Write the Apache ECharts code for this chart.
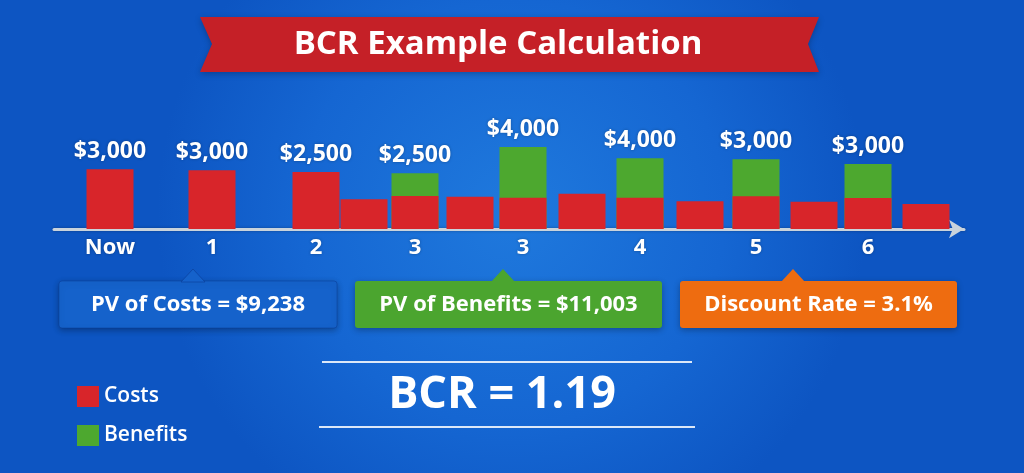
<!DOCTYPE html>
<html>
<head>
<meta charset="utf-8">
<title>BCR Example Calculation</title>
<script src="https://cdn.jsdelivr.net/npm/echarts@6/dist/echarts.min.js"></script>
<style>
  html, body { margin: 0; padding: 0; }
  #main { width: 1024px; height: 473px; }
</style>
</head>
<body>
<div id="main"></div>
<script>
// timeline position of each bar (1 unit = one slot on the axis)
var xPos = [0.56, 1.58, 2.62, 3.10, 3.61, 4.16, 4.69, 5.28, 5.86, 6.46, 7.02, 7.60, 8.14, 8.72];
// period label under a bar ('' = none)
var periods = ['Now', '1', '2', '', '3', '', '3', '', '4', '', '5', '', '6', ''];
// cost and benefit heights
var costs = [2985, 2935, 2850, 1485, 1650, 1615, 1565, 1765, 1565, 1385, 1635, 1365, 1550, 1250];
var benefits = [null, null, null, null, 1135, null, 2535, null, 1970, null, 1850, null, 1700, null];
// text shown above each bar
var valueLabels = ['$3,000', '$3,000', '$2,500', '', '$2,500', '', '$4,000', '', '$4,000', '', '$3,000', '', '$3,000', ''];

var summary = [
  { text: 'PV of Costs = $9,238', color: '#1562cb' },
  { text: 'PV of Benefits = $11,003', color: '#4ba52f' },
  { text: 'Discount Rate = 3.1%', color: '#ee6c10' }
];
var ratioText = 'BCR = 1.19';

var FONT = '"Open Sans", "Noto Sans", sans-serif';
var RED = '#d8252a';
var GREEN = '#4da82f';

var labelValues = [];
xPos.forEach(function (x, i) {
  if (periods[i] !== '') labelValues.push(x);
});

var costData = xPos.map(function (x, i) {
  return {
    value: [x, costs[i]],
    label: { show: benefits[i] == null && valueLabels[i] !== '', formatter: valueLabels[i] }
  };
});
// green bar drawn behind the red one, from 0 up to cost + benefit
var benefitData = [];
xPos.forEach(function (x, i) {
  if (benefits[i] == null) return;
  benefitData.push({
    value: [x, costs[i] + benefits[i]],
    label: { show: true, formatter: valueLabels[i] }
  });
});

var barLabel = {
  position: 'top',
  distance: 6,
  color: '#fff',
  fontFamily: FONT,
  fontSize: 23,
  fontWeight: 'bold',
  textShadowColor: 'rgba(0,0,0,0.3)',
  textShadowBlur: 3
};

// summary boxes under the axis
var boxes = [
  { x: 59, w: 278, tip: 193 },
  { x: 355, w: 307, tip: 503 },
  { x: 680, w: 277, tip: 793 }
];
var graphics = [];

// title ribbon
graphics.push({
  type: 'polygon',
  shape: { points: [[200, 17], [819, 17], [808, 44], [819, 72], [200, 72], [212, 44]] },
  style: { fill: '#c52027', shadowBlur: 6, shadowColor: 'rgba(0,0,0,0.25)', shadowOffsetY: 2 }
});
graphics.push({
  type: 'text',
  x: 498, y: 45,
  style: {
    text: 'BCR Example Calculation', fill: '#fff', font: 'bold 33px ' + FONT,
    align: 'center', verticalAlign: 'middle',
    shadowBlur: 3, shadowColor: 'rgba(0,0,0,0.3)'
  }
});

boxes.forEach(function (b, i) {
  var s = summary[i];
  graphics.push({
    type: 'rect',
    shape: { x: b.x, y: 281, width: b.w, height: 47, r: 3 },
    style: {
      fill: s.color, stroke: i === 0 ? 'rgba(10,60,150,0.5)' : null, lineWidth: 1,
      shadowBlur: 6, shadowColor: 'rgba(0,0,0,0.3)', shadowOffsetY: 2
    }
  });
  graphics.push({
    type: 'polygon',
    shape: { points: [[b.tip - 12, 282], [b.tip, 269], [b.tip + 12, 282]] },
    style: { fill: s.color, stroke: i === 0 ? 'rgba(10,60,150,0.6)' : null, lineWidth: 1 }
  });
  graphics.push({
    type: 'text',
    x: b.x + b.w / 2, y: 305,
    style: {
      text: s.text, fill: '#fff', font: 'bold 22px ' + FONT,
      align: 'center', verticalAlign: 'middle',
      shadowBlur: 2, shadowColor: 'rgba(0,0,0,0.25)'
    }
  });
});

// BCR result between two rules
graphics.push({
  type: 'line',
  shape: { x1: 322, y1: 362, x2: 692, y2: 362 },
  style: { stroke: 'rgba(255,255,255,0.85)', lineWidth: 2 }
});
graphics.push({
  type: 'line',
  shape: { x1: 319, y1: 427, x2: 695, y2: 427 },
  style: { stroke: 'rgba(255,255,255,0.85)', lineWidth: 2 }
});
graphics.push({
  type: 'text',
  x: 502, y: 395,
  style: {
    text: ratioText, fill: '#fff', font: 'bold 45px ' + FONT,
    align: 'center', verticalAlign: 'middle',
    shadowBlur: 4, shadowColor: 'rgba(0,0,0,0.3)'
  }
});

var myChart = echarts.init(document.getElementById('main'));
var option = {
  backgroundColor: {
    type: 'radial', x: 0.5, y: 0.45, r: 0.75,
    colorStops: [
      { offset: 0, color: '#1f79dd' },
      { offset: 0.6, color: '#1566d2' },
      { offset: 1, color: '#0d55c2' }
    ]
  },
  animation: false,
  legend: {
    orient: 'vertical',
    left: 72, top: 381,
    icon: 'rect',
    itemWidth: 22, itemHeight: 21, itemGap: 18,
    data: ['Costs', 'Benefits'],
    textStyle: { color: '#fff', fontFamily: FONT, fontSize: 21, fontWeight: 600 }
  },
  grid: { left: 54, right: 60, top: 129, bottom: 244 },
  xAxis: {
    type: 'value',
    min: 0, max: 9.1,
    splitLine: { show: false },
    axisTick: { show: false },
    axisLine: {
      show: true,
      onZero: false,
      symbol: ['none', 'arrow'],
      symbolSize: [14, 15],
      lineStyle: { color: '#c9d3dc', width: 3, shadowBlur: 3, shadowColor: 'rgba(0,0,0,0.3)' }
    },
    axisLabel: {
      customValues: labelValues,
      margin: 8,
      color: '#fff',
      fontFamily: FONT,
      fontSize: 22,
      fontWeight: 'bold',
      textShadowColor: 'rgba(0,0,0,0.3)',
      textShadowBlur: 3,
      formatter: function (v) {
        var i = xPos.indexOf(v);
        return i < 0 ? '' : periods[i];
      }
    }
  },
  yAxis: { type: 'value', min: 0, max: 5000, show: false },
  series: [
    {
      name: 'Benefits', type: 'bar', barWidth: 47, barGap: '-100%', z: 1,
      itemStyle: { color: GREEN },
      label: barLabel,
      data: benefitData
    },
    {
      name: 'Costs', type: 'bar', barWidth: 47, barGap: '-100%', z: 2,
      itemStyle: { color: RED, borderColor: 'rgba(235,225,200,0.8)', borderWidth: 0 },
      label: barLabel,
      data: costData
    }
  ],
  graphic: graphics
};
myChart.setOption(option);
</script>
</body>
</html>
